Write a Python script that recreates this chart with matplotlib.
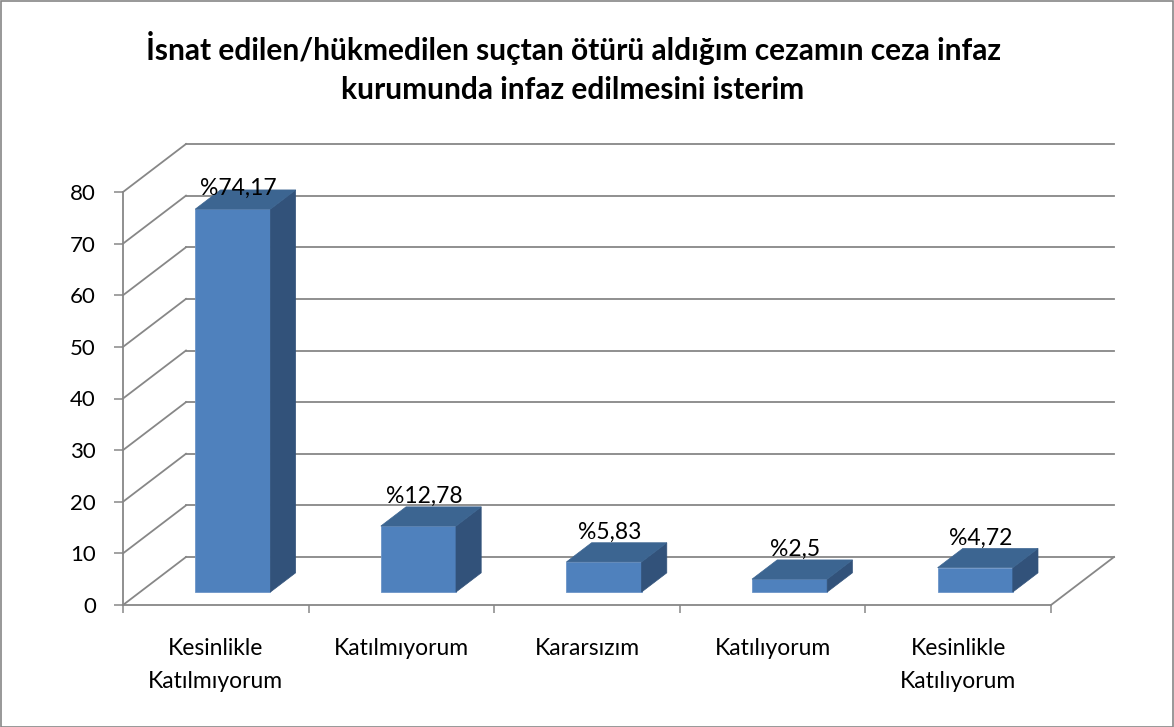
import matplotlib
matplotlib.use("Agg")
import matplotlib.pyplot as plt
from matplotlib.patches import Polygon, Rectangle

plt.rcParams['font.family'] = ['Lato', 'DejaVu Sans']

title = "İsnat edilen/hükmedilen suçtan ötürü aldığım cezamın ceza infaz\nkurumunda infaz edilmesini isterim"
categories = ["Kesinlikle\nKatılmıyorum", "Katılmıyorum", "Kararsızım", "Katılıyorum", "Kesinlikle\nKatılıyorum"]
values = [74.17, 12.78, 5.83, 2.5, 4.72]
yticks = [0, 10, 20, 30, 40, 50, 60, 70, 80]

W, H = 1174, 727
px_cat = 185.6
px_unit = 5.1625
x0_px, y0_px = 123, 605
XMAX, YMAX = 5.45, 91
DX = 63 / px_cat
DY = 48 / px_unit
d_front, d_back = 0.27, 0.67
bar_w = 0.405

grid_c = '#878787'
c_front = '#4F81BD'
c_side = '#32527A'
c_top = '#3C6591'

fig = plt.figure(figsize=(W / 100, H / 100), dpi=100)
ax = fig.add_axes([x0_px / W, (H - y0_px) / H, XMAX * px_cat / W, YMAX * px_unit / H])
ax.set_xlim(0, XMAX)
ax.set_ylim(0, YMAX)
ax.patch.set_visible(False)

# walls / gridlines
n = len(categories)
for v in yticks:
    ax.plot([DX, n + DX], [v + DY, v + DY], color=grid_c, lw=1.3, zorder=1, clip_on=False)
    ax.plot([0, DX], [v, v + DY], color=grid_c, lw=1.3, zorder=1, clip_on=False)
ax.plot([n, n + DX], [0, DY], color=grid_c, lw=1.3, zorder=1, clip_on=False)

# bars
dd = d_back - d_front
for i, v in enumerate(values):
    xl = i + 0.5 - bar_w / 2 + d_front * DX
    xr = xl + bar_w
    yb = d_front * DY
    yt = yb + v
    ax.add_patch(Polygon([(xl, yb), (xr, yb), (xr, yt), (xl, yt)], closed=True,
                         facecolor=c_front, edgecolor='#6C95C8', lw=0.6, zorder=3))
    ax.add_patch(Polygon([(xr, yb), (xr + dd * DX, yb + dd * DY), (xr + dd * DX, yt + dd * DY), (xr, yt)],
                         closed=True, facecolor=c_side, edgecolor=c_side, lw=0.5, zorder=3))
    ax.add_patch(Polygon([(xl, yt), (xr, yt), (xr + dd * DX, yt + dd * DY), (xl + dd * DX, yt + dd * DY)],
                         closed=True, facecolor=c_top, edgecolor=c_top, lw=0.5, zorder=3))
    label = "%" + f"{v:g}".replace('.', ',')
    ly = min(yt + dd * DY + 2.0, 80.8)
    ax.text(i + 0.5 + d_front * DX + 0.03, ly, label, ha='center', va='center',
            fontsize=16.5, color='black', zorder=5)

# axes spines and ticks
for s in ['top', 'right']:
    ax.spines[s].set_visible(False)
ax.spines['left'].set_bounds(0, 80)
ax.spines['bottom'].set_bounds(0, n)
for s in ['left', 'bottom']:
    ax.spines[s].set_color(grid_c)
    ax.spines[s].set_linewidth(1.3)
    ax.spines[s].set_zorder(4)

ax.set_yticks(yticks)
ax.set_yticklabels([str(t) for t in yticks], fontsize=16)
ax.tick_params(axis='y', direction='out', length=6.5, width=1.1, color=grid_c, pad=13)
ax.set_xticks(list(range(n + 1)))
ax.set_xticklabels([''] * (n + 1))
ax.tick_params(axis='x', which='major', direction='out', length=6, width=1.1, color=grid_c)
ax.set_xticks([i + 0.5 for i in range(n)], minor=True)
ax.set_xticklabels(categories, minor=True, fontsize=16.5, linespacing=1.7)
ax.tick_params(axis='x', which='minor', length=0, pad=24)

fig.text(573 / W, 1 - 67.5 / H, title, ha='center', va='center', fontsize=21.5,
         fontweight='bold', linespacing=1.48)

fig.add_artist(Rectangle((0.5 / W, 0.5 / H), 1 - 1.5 / W, 1 - 1.5 / H, transform=fig.transFigure,
                         fill=False, edgecolor='#868686', lw=1.2))

fig.savefig('out.png', dpi=100)
